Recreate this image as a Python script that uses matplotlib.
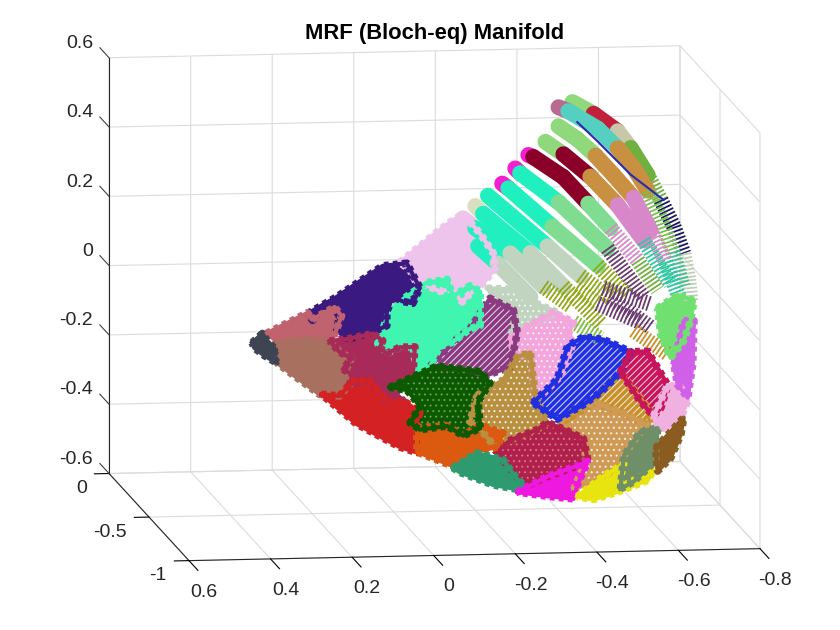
import matplotlib
matplotlib.use('Agg')
import matplotlib.pyplot as plt
from mpl_toolkits.mplot3d import proj3d
from mpl_toolkits.mplot3d.art3d import Poly3DCollection

plt.rcParams['font.family'] = ['Liberation Sans', 'DejaVu Sans']
plt.rcParams['lines.scale_dashes'] = False
plt.rcParams['hatch.linewidth'] = 0.8

x_ticks = [0.6, 0.4, 0.2, 0, -0.2, -0.4, -0.6, -0.8]
x_labels = ['0.6', '0.4', '0.2', '0', '-0.2', '-0.4', '-0.6', '-0.8']
y_ticks = [-1, -0.5, 0]
y_labels = ['-1', '-0.5', '0']
z_ticks = [-0.6, -0.4, -0.2, 0, 0.2, 0.4, 0.6]
z_labels = ['-0.6', '-0.4', '-0.2', '0', '0.2', '0.4', '0.6']

# depth of the two parts of the manifold (estimated)
front_y = -0.75
back_y = -0.25

# clusters on the front of the manifold
tip_x = [.396, .371, .359, .337, .346, .334, .366, .391]
tip_z = [-.039, -.013, -.034, -.062, -.077, -.100, -.077, -.054]
rose_x = [.361, .260, .250, .194, .177, .189, .199, .263, .329]
rose_z = [-.013, .044, .024, .059, .033, -.005, -.034, -.034, -.042]
brown_x = [.337, .263, .199, .182, .152, .164, .150, .182, .231, .334]
brown_z = [-.042, -.034, -.042, -.071, -.090, -.114, -.156, -.198, -.192, -.100]
indigo_x = [.260, .189, .076, .017, -.015, .002, .027, .051, .066, .066, .100, .164, .189, .182, .194, .223, .248]
indigo_z = [.042, .088, .175, .181, .109, .065, .071, .086, .042, .002, -.015, -.036, -.007, .031, .057, .057, .022]
lilac_x = [.034, -.059, -.089, -.121, -.163, -.195, -.200, -.170, -.138, -.119, -.089, -.064, -.028, -.015, .009]
lilac_z = [.184, .271, .297, .320, .262, .205, .161, .118, .089, .066, .104, .098, .118, .104, .161]
aqua_x = [.066, .041, -.032, -.082, -.096, -.138, -.163, -.163, -.138, -.096, -.064, -.040, -.008, .002, .034, .066, .088, .076]
aqua_z = [.026, .066, .124, .132, .083, .112, .095, -.003, -.012, -.049, -.061, -.118, -.136, -.061, -.061, -.078, -.049, -.012]
plum_x = [.206, .164, .100, .076, .083, .066, .034, -.003, .002, .059, .027, .066, .108, .157, .150, .174, .152, .182]
plum_z = [-.039, -.034, -.020, -.041, -.061, -.078, -.061, -.061, -.136, -.176, -.214, -.214, -.156, -.165, -.136, -.121, -.090, -.071]
red_x = [.226, .182, .150, .108, .066, .017, -.015, -.003, -.008, .034, .140]
red_z = [-.192, -.198, -.156, -.156, -.214, -.222, -.251, -.291, -.366, -.349, -.280]
forest_x = [.059, .002, -.057, -.163, -.187, -.158, -.163, -.121, -.082, -.015, .009, -.015, .002, .017]
forest_z = [-.176, -.147, -.118, -.136, -.170, -.222, -.300, -.320, -.291, -.300, -.280, -.234, -.205, -.185]
orange_x = [-.008, -.082, -.121, -.163, -.219, -.205, -.155, -.126, -.096, -.008]
orange_z = [-.294, -.291, -.320, -.291, -.315, -.355, -.366, -.387, -.407, -.364]
jade_x = [-.096, -.155, -.219, -.254, -.274, -.254, -.195, -.114]
jade_z = [-.412, -.371, -.392, -.449, -.469, -.478, -.464, -.426]
crimson_x = [-.200, -.237, -.303, -.328, -.367, -.416, -.426, -.401, -.328, -.281, -.254, -.219]
crimson_z = [-.371, -.336, -.307, -.287, -.307, -.336, -.394, -.414, -.443, -.466, -.443, -.394]
magenta_x = [-.254, -.328, -.401, -.426, -.401, -.392, -.328]
magenta_z = [-.486, -.443, -.414, -.402, -.471, -.509, -.500]
yellow_x = [-.401, -.465, -.515, -.500, -.588, -.574, -.500, -.441]
yellow_z = [-.503, -.446, -.411, -.483, -.431, -.460, -.492, -.512]
tan_x = [-.392, -.416, -.426, -.360, -.384, -.441, -.507, -.574, -.549, -.515, -.507, -.465]
tan_z = [-.483, -.417, -.339, -.290, -.261, -.232, -.261, -.301, -.330, -.388, -.417, -.446]
sage_x = [-.507, -.515, -.556, -.598, -.593, -.539]
sage_z = [-.483, -.388, -.319, -.310, -.405, -.463]
umber_x = [-.593, -.623, -.662, -.655, -.630, -.598]
umber_z = [-.368, -.330, -.281, -.330, -.397, -.434]
gold_x = [-.155, -.219, -.254, -.286, -.298, -.328, -.303, -.237, -.200, -.155, -.138]
gold_z = [-.205, -.162, -.096, -.084, -.211, -.287, -.307, -.336, -.355, -.291, -.280]
mauve_x = [-.040, -.096, -.138, -.187, -.244, -.254, -.237, -.180, -.146, -.057]
mauve_z = [-.118, -.049, -.012, .075, .040, -.026, -.124, -.147, -.133, -.118]
pink_x = [-.237, -.278, -.342, -.392, -.377, -.392, -.360, -.310, -.298, -.286, -.254, -.242]
pink_z = [-.041, -.009, .030, .001, -.039, -.056, -.154, -.212, -.212, -.085, -.097, -.068]
pale_x = [-.180, -.261, -.278, -.352, -.278, -.237, -.254, -.219]
pale_z = [.104, .098, .069, .030, -.009, -.041, .040, .069]
blue_x = [-.293, -.352, -.377, -.416, -.465, -.532, -.507, -.458, -.416, -.352]
blue_z = [-.229, -.163, -.068, -.042, -.051, -.088, -.146, -.203, -.238, -.278]
ochre_x = [-.360, -.433, -.458, -.507, -.588, -.574, -.507, -.441]
ochre_z = [-.290, -.232, -.203, -.146, -.273, -.301, -.261, -.232]
ruby_x = [-.507, -.532, -.574, -.623, -.606, -.588, -.556]
ruby_z = [-.146, -.088, -.088, -.186, -.252, -.275, -.232]
blush_x = [-.588, -.623, -.655, -.672, -.655, -.623, -.598]
blush_z = [-.275, -.186, -.195, -.232, -.281, -.310, -.310]
orchid_x = [-.638, -.662, -.687, -.684, -.672, -.647]
orchid_z = [-.128, -.002, -.002, -.128, -.224, -.186]
lime_x = [-.598, -.647, -.687, -.679, -.662, -.630, -.606]
lime_z = [.036, .073, .056, -.002, -.059, -.108, -.042]

# the arcs of the manifold, one colour per stretch between two points
a1_x = [-.487, -.539, -.598, -.630, -.672, -.704, -.736, -.760, -.772, -.777]
a1_z = [.508, .473, .421, .372, .292, .220, .142, .064, -.011, -.075]
a1_c = ['#8fd87c', '#c0203c', '#c8c8a8', '#70b040', '#70b040', '#1a1a60', '#1a1a60', '#c0d0b8', '#c0d0b8']
a2_x = [-.453, -.477, -.549, -.598, -.637, -.672, -.704, -.733, -.758]
a2_z = [.494, .482, .430, .372, .315, .248, .165, .070, -.031]
a2_c = ['#b86a90', '#55cfc0', '#55cfc0', '#c89040', '#c89040', '#78c050', '#78c050', '#40c090']
a3_x = [-.453, -.499, -.544, -.588, -.637, -.679, -.716, -.748]
a3_z = [.439, .401, .352, .295, .228, .133, .041, -.060]
a3_c = ['#8fd87c', '#8fd87c', '#c89040', '#c89040', '#d888c8', '#d888c8', '#30c8a0']
a4_x = [-.421, -.465, -.531, -.598, -.662, -.728]
a4_z = [.395, .358, .292, .208, .104, -.023]
a4_c = ['#8fd87c', '#8a0028', '#c89040', '#d888c8', '#30c8a0']
a5_x = [-.379, -.391, -.465, -.526, -.581, -.647, -.696]
a5_z = [.358, .352, .292, .214, .142, .047, -.040]
a5_c = ['#f020d0', '#8a0028', '#8a0028', '#80dc90', '#d888c8', '#70b040']
a6_x = [-.347, -.359, -.453, -.573, -.662]
a6_z = [.320, .306, .220, .084, -.060]
a6_c = ['#f020d0', '#20f0c0', '#80dc90', '#6a3a70']
a7_x = [-.315, -.330, -.438, -.549, -.622]
a7_z = [.277, .263, .150, .035, -.052]
a7_c = ['#f020d0', '#20f0c0', '#80dc90', '#90a818']
a8_x = [-.280, -.426, -.507, -.581, -.679]
a8_z = [.243, .093, .006, -.060, -.147]
a8_c = ['#20f0c0', '#c0d4c0', '#90a818', '#6a3a70']
a9_x = [-.249, -.268, -.384, -.465, -.556]
a9_z = [.214, .191, .075, -.023, -.132]
a9_c = ['#d8e0c0', '#20f0c0', '#c0d4c0', '#90a818']
a10_x = [-.219, -.249, -.335, -.416, -.482]
a10_z = [.179, .150, .075, -.023, -.080]
a10_c = ['#eec4ec', '#20f0c0', '#c0d4c0', '#90a818']
a11_x = [-.256, -.303, -.384]
a11_z = [.098, .047, -.052]
a11_c = ['#20f0c0', '#c0d4c0']
# lower stretches, seen as stacks of rings
r1_x = [-.495, -.549, -.654]
r1_z = [-.031, -.075, -.132]
r1_c = ['#90a818', '#6a3a70']
r2_x = [-.563, -.679]
r2_z = [-.031, -.080]
r2_c = ['#6a3a70']
r3_x = [-.490, -.556]
r3_z = [-.127, -.176]
r3_c = ['#80c040']
r5_x = [-.637, -.721]
r5_z = [-.155, -.225]
r5_c = ['#c8902a']
edge_x = [-.499, -.549, -.630, -.711]
edge_z = [.450, .393, .295, .220]

fig = plt.figure(figsize=(8.4, 6.3), dpi=100)
ax = fig.add_axes([23.7 / 840, -84 / 630, 800 / 840, 800 / 630], projection='3d', computed_zorder=False)
ax.set_proj_type('ortho')
ax.set_box_aspect((577, 582, 421), zoom=1.117)
ax.view_init(elev=8.7, azim=-97.9)
ax.patch.set_alpha(0)

# solid arcs then the ring stretches
arcs = [(a1_x, a1_z, a1_c, 4), (a2_x, a2_z, a2_c, 5), (a3_x, a3_z, a3_c, 5), (a4_x, a4_z, a4_c, 4),
        (a5_x, a5_z, a5_c, 4), (a6_x, a6_z, a6_c, 3), (a7_x, a7_z, a7_c, 3), (a8_x, a8_z, a8_c, 2),
        (a9_x, a9_z, a9_c, 3), (a10_x, a10_z, a10_c, 3), (a11_x, a11_z, a11_c, 9),
        (r1_x, r1_z, r1_c, 0), (r2_x, r2_z, r2_c, 0), (r3_x, r3_z, r3_c, 0), (r5_x, r5_z, r5_c, 0)]
for xs, zs, cs, ring_from in arcs:
    for i, c in enumerate(cs):
        sx, sz = xs[i:i + 2], zs[i:i + 2]
        sy = [back_y, back_y]
        if i >= ring_from:
            ax.plot(sx, sy, sz, color=c, lw=11, dashes=(1.3, 1.5), dash_capstyle='butt')
        else:
            ax.plot(sx, sy, sz, color=c, lw=11.5, solid_capstyle='round')
ax.plot(edge_x, [back_y] * len(edge_x), edge_z, color='#2a2ab0', lw=1.5)

# back to front
blobs = [(lilac_x, lilac_z, '#eec4ec', None), (pale_x, pale_z, '#c0d4c0', '...'),
         (pink_x, pink_z, '#f3a5dc', '...'), (mauve_x, mauve_z, '#8a3a80', '/////'),
         (aqua_x, aqua_z, '#3ff5b0', None), (gold_x, gold_z, '#b89040', '...'),
         (indigo_x, indigo_z, '#3a1a80', None), (rose_x, rose_z, '#c0636f', None),
         (brown_x, brown_z, '#a8705f', None), (plum_x, plum_z, '#a82a58', None),
         (red_x, red_z, '#d42224', None), (ochre_x, ochre_z, '#c8902a', '/////'),
         (tan_x, tan_z, '#cf9a55', '...'), (blue_x, blue_z, '#2030e0', '/////'),
         (ruby_x, ruby_z, '#c8145a', '/////'), (blush_x, blush_z, '#f0b0e0', None),
         (orchid_x, orchid_z, '#d060e8', None), (lime_x, lime_z, '#70e070', None),
         (crimson_x, crimson_z, '#b0204a', '...'), (orange_x, orange_z, '#dc5a10', None),
         (jade_x, jade_z, '#2e9a70', None), (magenta_x, magenta_z, '#ee18e0', None),
         (yellow_x, yellow_z, '#e8e410', None), (sage_x, sage_z, '#6f8f68', None),
         (umber_x, umber_z, '#8a5c20', None), (forest_x, forest_z, '#0c5a00', '...'),
         (tip_x, tip_z, '#3f4452', None)]
faint = ['#b0204a', '#0c5a00']
for xs, zs, c, hatch in blobs:
    ys = [front_y] * len(xs)
    dot_alpha = 0.3 if c in faint else 0.75
    poly = Poly3DCollection([list(zip(xs, ys, zs))], facecolor=c, linewidth=0,
                            edgecolor=(1, 1, 1, dot_alpha) if hatch else c, hatch=hatch)
    ax.add_collection3d(poly)
    # round outline closes the gaps, the dashed one gives the jagged cluster edge
    ox, oy, oz = xs + xs[:1], ys + ys[:1], zs + zs[:1]
    ax.plot(ox, oy, oz, color=c, lw=3, solid_joinstyle='round')
    ax.plot(ox, oy, oz, color=c, lw=5.5, dashes=(3.5, 3), dash_capstyle='butt')

ax.set_xlim(0.6, -0.8)
ax.set_ylim(-1, 0)
ax.set_zlim(-0.6, 0.6)
ax.set_xticks(x_ticks, [''] * len(x_ticks))
ax.set_yticks(y_ticks, [''] * len(y_ticks))
ax.set_zticks(z_ticks, [''] * len(z_ticks))
ax.zaxis.set_ticks_position('upper')

for axis in (ax.xaxis, ax.yaxis, ax.zaxis):
    axis.set_pane_color((1, 1, 1, 0))
    axis.pane.set_edgecolor((1, 1, 1, 0))
    axis.line.set_color('#262626')
    axis.line.set_linewidth(0.8)
    axis._axinfo['grid']['color'] = '#dcdcdc'
    axis._axinfo['grid']['linewidth'] = 0.8
    axis._axinfo['tick']['outward_factor'] = 0
    axis._axinfo['tick']['color'] = '#404040'
    for t in axis.get_major_ticks():
        t.label1.set_visible(False)
ax.xaxis._axinfo['tick']['inward_factor'] = 1.4
ax.yaxis._axinfo['tick']['inward_factor'] = 0.32
ax.zaxis._axinfo['tick']['inward_factor'] = 0

# z ticks run along y here, which Axis3D does not offer
for v in z_ticks:
    ax.plot([0.6, 0.6], [0, 0.115], [v, v], color='#404040', lw=0.8)


# tick labels are set apart from the box as in the reference
def label(x, y, z, s, ha):
    px, py, _ = proj3d.proj_transform(x, y, z, ax.get_proj())
    ax.text2D(px, py, s, transform=ax.transData, ha=ha, va='center', fontsize=14, color='#262626')


for v, s in zip(x_ticks, x_labels):
    label(v, -1.19, -0.643, s, 'center')
for v, s in zip(y_ticks, y_labels):
    label(0.654, v, -0.643, s, 'right')
for v, s in zip(z_ticks, z_labels):
    label(0.639, 0, v + 0.042, s, 'right')

fig.text(434.5 / 840, 1 - 34 / 630, 'MRF (Bloch-eq) Manifold', fontsize=15.8, fontweight='bold',
         ha='center', va='center', color='black')
fig.savefig('out.png', dpi=100)
